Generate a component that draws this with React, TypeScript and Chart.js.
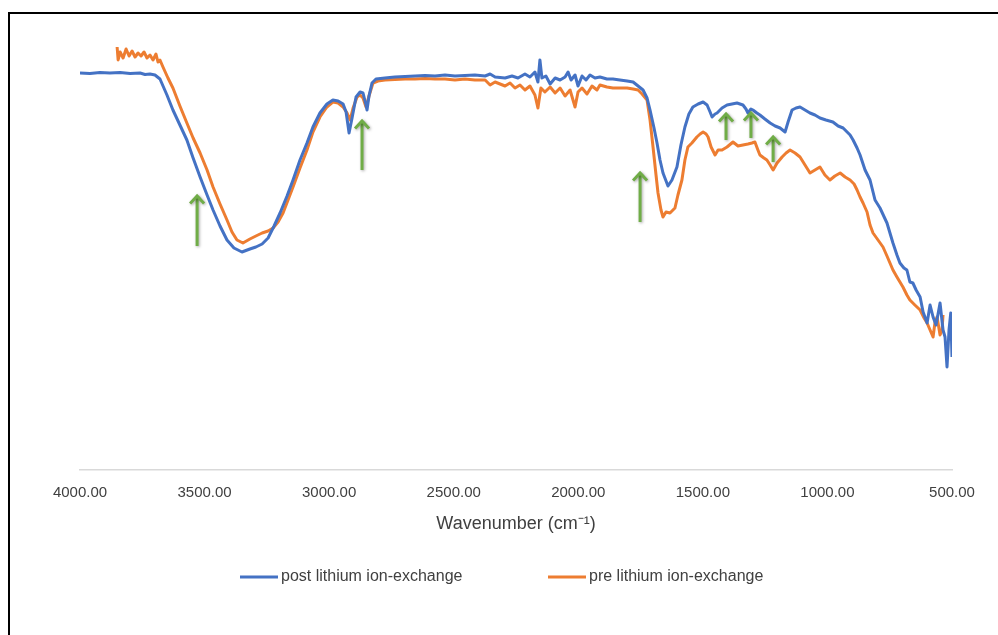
import React, { useEffect, useRef } from "react";
import { Chart, registerables } from "chart.js";

Chart.register(...registerables);

// post lithium ion-exchange (blue)
const postWavenumber = [
  4000, 3960, 3920, 3880, 3839, 3799, 3759, 3739, 3719, 3699, 3679, 3651, 3627, 3599, 3571, 3546, 3518, 3490, 3466, 3438,
  3410, 3382, 3350, 3318, 3294, 3269, 3245, 3221, 3197, 3169, 3145, 3117, 3089, 3065, 3037, 3009, 2985, 2964, 2944, 2932,
  2920, 2908, 2892, 2876, 2864, 2852, 2848, 2840, 2828, 2812, 2776, 2736, 2695, 2655, 2615, 2575, 2535, 2495, 2455, 2415,
  2374, 2354, 2334, 2294, 2266, 2242, 2214, 2194, 2174, 2162, 2154, 2146, 2130, 2113, 2093, 2073, 2053, 2041, 2029, 2013,
  2001, 1985, 1969, 1953, 1933, 1913, 1885, 1861, 1833, 1804, 1780, 1760, 1740, 1724, 1712, 1696, 1684, 1672, 1660, 1640,
  1624, 1604, 1588, 1572, 1556, 1540, 1519, 1499, 1483, 1471, 1463, 1451, 1443, 1423, 1403, 1383, 1363, 1339, 1327, 1319,
  1307, 1299, 1283, 1271, 1251, 1230, 1210, 1190, 1170, 1158, 1142, 1126, 1110, 1090, 1070, 1050, 1030, 1006, 978, 957,
  937, 921, 909, 897, 881, 869, 849, 829, 809, 789, 761, 737, 721, 709, 693, 681, 669, 657, 644, 628,
  616, 600, 588, 576, 564, 548, 536, 528, 520, 512, 505, 500,
];
const postTransmittance = [
  79.4, 79.3, 79.5, 79.4, 79.5, 79.3, 79.4, 79.1, 79.2, 79.0, 78.2, 75.0, 72.0, 69.0, 66.0, 62.4, 58.6, 55.0, 52.0, 48.8,
  46.0, 44.4, 43.6, 44.2, 44.6, 45.2, 46.4, 48.8, 51.4, 54.8, 58.0, 62.0, 65.4, 68.6, 71.4, 73.2, 74.0, 73.8, 73.2, 71.6,
  67.4, 70.4, 74.6, 75.6, 75.4, 73.0, 72.0, 74.8, 77.4, 78.2, 78.4, 78.6, 78.7, 78.8, 78.9, 78.8, 79.0, 78.8, 78.9, 79.0,
  78.8, 79.2, 78.6, 78.4, 78.8, 78.4, 79.2, 78.6, 79.6, 77.6, 82.0, 78.4, 78.8, 77.2, 78.4, 78.0, 78.6, 79.6, 78.0, 79.0,
  76.8, 78.8, 78.0, 79.0, 78.4, 78.6, 78.2, 78.2, 78.0, 77.8, 77.6, 76.8, 76.0, 74.4, 72.0, 68.4, 65.4, 62.0, 59.4, 56.8,
  58.0, 60.6, 65.0, 68.6, 71.2, 72.6, 73.2, 73.6, 73.0, 71.6, 70.6, 71.2, 71.4, 72.4, 73.0, 73.2, 73.4, 73.0, 72.2, 71.4,
  72.2, 72.0, 71.4, 71.0, 70.2, 69.4, 68.8, 68.4, 67.6, 69.6, 72.0, 72.4, 72.6, 72.0, 71.4, 71.0, 70.4, 70.0, 69.6, 68.8,
  68.4, 67.6, 67.0, 66.0, 64.4, 63.0, 60.0, 58.0, 54.0, 52.4, 49.4, 45.4, 43.0, 41.4, 40.4, 40.0, 37.6, 37.4, 36.0, 34.6,
  31.6, 29.4, 33.0, 30.6, 29.0, 33.4, 28.0, 26.6, 20.6, 28.0, 31.4, 22.6,
];

// pre lithium ion-exchange (orange)
const preWavenumber = [
  3851, 3847, 3839, 3827, 3815, 3803, 3791, 3779, 3767, 3755, 3743, 3731, 3719, 3707, 3695, 3687, 3679, 3667, 3647, 3627,
  3599, 3571, 3546, 3518, 3490, 3466, 3438, 3410, 3390, 3370, 3346, 3318, 3294, 3269, 3245, 3225, 3205, 3185, 3165, 3145,
  3117, 3089, 3065, 3037, 3009, 2985, 2964, 2944, 2928, 2916, 2904, 2888, 2876, 2864, 2852, 2840, 2824, 2804, 2776, 2736,
  2695, 2655, 2615, 2575, 2535, 2495, 2455, 2415, 2374, 2354, 2334, 2314, 2294, 2274, 2254, 2234, 2214, 2194, 2174, 2162,
  2150, 2134, 2113, 2093, 2073, 2053, 2033, 2013, 2001, 1985, 1965, 1945, 1925, 1913, 1885, 1861, 1833, 1804, 1780, 1760,
  1744, 1724, 1712, 1700, 1688, 1680, 1668, 1660, 1648, 1632, 1612, 1600, 1584, 1572, 1560, 1544, 1524, 1511, 1499, 1487,
  1479, 1467, 1451, 1439, 1423, 1403, 1379, 1359, 1339, 1319, 1303, 1291, 1279, 1271, 1255, 1243, 1230, 1218, 1202, 1182,
  1166, 1150, 1130, 1110, 1090, 1070, 1050, 1030, 1010, 990, 970, 949, 929, 909, 893, 881, 869, 857, 841, 829,
  817, 797, 777, 761, 749, 737, 721, 709, 697, 681, 669, 649, 628, 612, 600, 588, 576, 568, 560, 548,
  540, 536,
];
const preTransmittance = [
  84.6, 82.0, 83.6, 82.4, 84.2, 82.8, 83.8, 82.6, 83.4, 82.8, 83.6, 82.4, 83.0, 82.0, 83.2, 81.6, 82.0, 80.6, 78.4, 76.4,
  72.8, 69.4, 66.4, 63.4, 60.0, 56.6, 53.2, 50.0, 47.6, 46.0, 45.4, 46.2, 46.8, 47.4, 47.8, 48.4, 49.6, 51.4, 54.0, 56.6,
  60.4, 64.0, 67.6, 70.6, 72.6, 73.6, 73.4, 72.6, 71.4, 70.0, 72.4, 74.6, 75.0, 74.4, 72.6, 74.8, 77.4, 77.8, 78.0, 78.1,
  78.2, 78.2, 78.3, 78.2, 78.2, 78.0, 78.2, 78.0, 78.0, 77.0, 77.6, 77.2, 76.8, 77.4, 76.4, 77.0, 76.0, 76.8, 75.0, 72.4,
  76.4, 75.6, 76.6, 75.4, 76.4, 74.8, 76.0, 72.6, 75.6, 76.4, 75.2, 76.8, 76.0, 77.0, 76.6, 76.4, 76.4, 76.4, 76.2, 76.0,
  75.2, 74.0, 70.0, 64.6, 59.0, 55.4, 52.0, 50.6, 51.6, 51.4, 52.4, 55.0, 58.0, 62.0, 64.6, 65.4, 66.6, 67.2, 67.6, 67.2,
  66.6, 64.6, 63.0, 64.0, 64.0, 64.6, 65.6, 64.8, 65.0, 65.2, 65.4, 65.6, 64.0, 63.0, 62.4, 62.0, 61.0, 60.0, 61.4, 62.6,
  63.4, 64.0, 63.4, 62.6, 61.0, 59.4, 60.0, 60.6, 59.0, 58.0, 58.8, 59.4, 58.6, 58.0, 57.2, 56.0, 54.6, 53.4, 51.6, 49.0,
  47.4, 46.0, 44.6, 42.8, 41.4, 40.0, 38.6, 37.6, 36.6, 35.0, 34.0, 33.0, 32.0, 30.4, 29.4, 28.0, 26.6, 29.6, 30.6, 27.0,
  28.0, 31.0,
];

// green annotation arrows
const arrowWavenumber = [3530, 2868, 1752, 1407, 1307, 1218];
const arrowTipT = [55.0, 70.0, 59.6, 71.4, 71.6, 66.8];
const arrowBaseT = [44.8, 60.0, 49.6, 66.0, 66.4, 61.6];

const xTicks = [4000, 3500, 3000, 2500, 2000, 1500, 1000, 500];
const seriesNames = ["post lithium ion-exchange", "pre lithium ion-exchange"];
const seriesColors = ["#4472C4", "#ED7D31"];
const arrowColor = "#70AD47";
const FONT = "'Liberation Sans', Arial, sans-serif";
const TEXT_COLOR = "#404040";

const arrowPlugin = {
  id: "arrows",
  afterDatasetsDraw(chart: any) {
    const { ctx, scales } = chart;
    ctx.save();
    ctx.strokeStyle = arrowColor;
    ctx.lineWidth = 3;
    ctx.lineCap = "butt";
    ctx.lineJoin = "miter";
    ctx.shadowColor = "rgba(0,0,0,0.35)";
    ctx.shadowBlur = 3;
    ctx.shadowOffsetX = 1;
    ctx.shadowOffsetY = 1;
    arrowWavenumber.forEach((wn, i) => {
      const x = scales.x.getPixelForValue(wn);
      const yt = scales.y.getPixelForValue(arrowTipT[i]);
      const yb = scales.y.getPixelForValue(arrowBaseT[i]);
      ctx.beginPath();
      ctx.moveTo(x, yb);
      ctx.lineTo(x, yt + 1);
      ctx.stroke();
      ctx.beginPath();
      ctx.moveTo(x - 7, yt + 8.5);
      ctx.lineTo(x, yt + 1);
      ctx.lineTo(x + 7, yt + 8.5);
      ctx.stroke();
    });
    ctx.restore();
  },
};

const legendPlugin = {
  id: "customLegend",
  afterDraw(chart: any) {
    const { ctx } = chart;
    const y = 563;
    const starts = [230, 538];
    ctx.save();
    ctx.font = `16px ${FONT}`;
    ctx.textBaseline = "middle";
    ctx.fillStyle = TEXT_COLOR;
    chart.data.datasets.forEach((ds: any, i: number) => {
      const x0 = starts[i];
      ctx.strokeStyle = ds.borderColor;
      ctx.lineWidth = 3;
      ctx.beginPath();
      ctx.moveTo(x0, y);
      ctx.lineTo(x0 + 38, y);
      ctx.stroke();
      ctx.fillText(ds.label, x0 + 41, y);
    });
    ctx.restore();
  },
};

export default function App() {
  const canvasRef = useRef<HTMLCanvasElement | null>(null);

  useEffect(() => {
    const canvas = canvasRef.current;
    if (!canvas) return;
    const chart = new Chart(canvas, {
      type: "line",
      data: {
        datasets: [
          {
            label: seriesNames[0],
            data: postWavenumber.map((x, i) => ({ x, y: postTransmittance[i] })),
            borderColor: seriesColors[0],
            backgroundColor: seriesColors[0],
            borderWidth: 3,
            pointRadius: 0,
            tension: 0,
            borderJoinStyle: "round",
          },
          {
            label: seriesNames[1],
            data: preWavenumber.map((x, i) => ({ x, y: preTransmittance[i] })),
            borderColor: seriesColors[1],
            backgroundColor: seriesColors[1],
            borderWidth: 3,
            pointRadius: 0,
            tension: 0,
            borderJoinStyle: "round",
          },
        ],
      },
      options: {
        responsive: false,
        animation: false,
        layout: { padding: { left: 70, right: 46, top: 6, bottom: 0 } },
        plugins: {
          legend: { display: false },
          tooltip: { enabled: false },
          title: { display: false },
        },
        scales: {
          x: {
            type: "linear",
            reverse: true,
            min: 500,
            max: 4000,
            afterBuildTicks: (scale: any) => {
              scale.ticks = xTicks.map((v) => ({ value: v }));
            },
            afterFit: (scale: any) => {
              scale.height = 165;
            },
            grid: { display: false, drawTicks: false },
            border: { display: true, color: "#D9D9D9", width: 1.5 },
            ticks: {
              autoSkip: false,
              maxRotation: 0,
              padding: 14,
              color: TEXT_COLOR,
              font: { family: FONT, size: 15 },
              callback: (v: any) => Number(v).toFixed(2),
            },
            title: {
              display: true,
              text: "Wavenumber (cm⁻¹)",
              color: TEXT_COLOR,
              font: { family: FONT, size: 18 },
              padding: { top: 0, bottom: 100 },
            },
          },
          y: {
            display: false,
            min: 0,
            max: 90,
          },
        },
      },
      plugins: [arrowPlugin, legendPlugin],
    } as any);
    return () => chart.destroy();
  }, []);

  return (
    <div
      style={{
        position: "absolute",
        left: 8,
        top: 12,
        width: 990,
        height: 623,
        boxSizing: "border-box",
        borderTop: "2px solid #000",
        borderLeft: "2px solid #000",
        background: "#fff",
      }}
    >
      <canvas ref={canvasRef} width={988} height={621} style={{ display: "block", width: 988, height: 621 }} />
    </div>
  );
}
